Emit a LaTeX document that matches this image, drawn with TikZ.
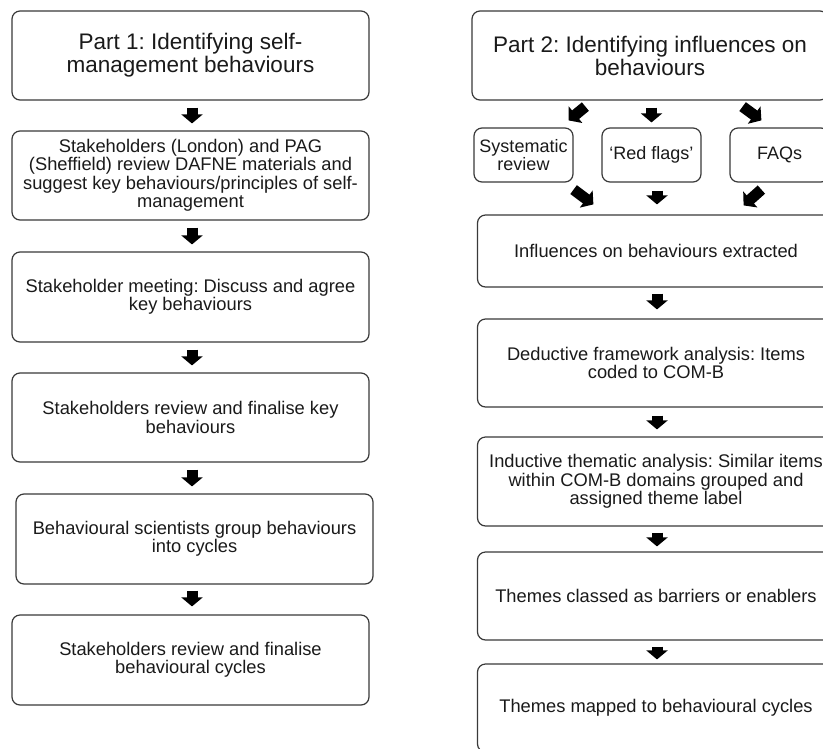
\documentclass[tikz,border=0pt]{standalone}
\usepackage{fontspec}
\setmainfont{Liberation Sans}
\usetikzlibrary{arrows.meta,calc}
\definecolor{boxgray}{HTML}{3A3A3A}
\definecolor{txt}{HTML}{1A1A1A}
\frenchspacing
\begin{document}
\begin{tikzpicture}[x=1pt,y=-1pt,
  box/.style={draw=boxgray, line width=1.2pt, rounded corners=8pt, align=center,
    inner sep=0pt, text=txt, font=\fontsize{18.3}{18.5}\selectfont},
  lbox/.style={box, minimum width=357pt},
  rbox/.style={box, minimum width=357pt},
  title/.style={font=\fontsize{22.5}{23}\selectfont},
  sbox/.style={box, minimum width=99pt, minimum height=54pt, font=\fontsize{18}{18.5}\selectfont},
  blk/.style={line width=11pt, draw=black, -{Triangle[width=21pt,length=9pt]}}]
\useasboundingbox (0,0) rectangle (823,748);
\fill[white] (0,0) rectangle (823,748);
\clip (0,0) rectangle (823,748);

% left column
\node[lbox, title, minimum height=89pt] (L1) at (190.5,55.5) {Part 1: Identifying self-\\management behaviours};
\node[lbox, minimum height=89pt] (L2) at (190.5,175.5) {Stakeholders (London) and PAG\\(Sheffield) review DAFNE materials and\\suggest key behaviours/principles of self-\\management};
\node[lbox, minimum height=90pt] (L3) at (190.5,297) {Stakeholder meeting: Discuss and agree\\key behaviours};
\node[lbox, minimum height=89pt] (L4) at (190.5,417.5) {Stakeholders review and finalise key\\behaviours};
\node[lbox, minimum height=90pt] (L5) at (194.5,539) {Behavioural scientists group behaviours\\into cycles};
\node[lbox, minimum height=90pt] (L6) at (190.5,660) {Stakeholders review and finalise\\behavioural cycles};

% right column
\node[rbox, title, minimum width=356pt, minimum height=89pt] (R1) at (650,55.5) {Part 2: Identifying influences on\\behaviours};
\node[sbox] (SR) at (523.5,155) {Systematic\\review};
\node[sbox] (RF) at (651.5,155) {`Red flags'};
\node[sbox] (FQ) at (779.5,155) {FAQs};
\node[rbox, minimum height=72pt] (R2) at (656,251) {Influences on behaviours extracted};
\node[rbox, minimum height=88pt] (R3) at (656,363) {Deductive framework analysis: Items\\coded to COM-B};
\node[rbox, minimum height=89pt] (R4) at (656,481.5) {Inductive thematic analysis: Similar items\\within COM-B domains grouped and\\assigned theme label};
\node[rbox, minimum height=88pt] (R5) at (656,596) {Themes classed as barriers or enablers};
\node[rbox, minimum height=88pt] (R6) at (656,708) {Themes mapped to behavioural cycles};

% left arrows
\draw[blk, shorten <=7pt, shorten >=7pt] ([xshift=1.5pt]L1.south) -- ([xshift=1.5pt]L2.north);
\draw[blk, shorten <=7pt, shorten >=7pt] ([xshift=1.5pt]L2.south) -- ([xshift=1.5pt]L3.north);
\draw[blk, shorten <=7pt, shorten >=7pt] ([xshift=1.5pt]L3.south) -- ([xshift=1.5pt]L4.north);
\draw[blk, shorten <=7pt, shorten >=7pt] ([xshift=1.5pt]L4.south) -- ([xshift=1.5pt]L4.south |- L5.north);
\draw[blk, shorten <=6pt, shorten >=8pt] ([xshift=1.5pt]L5.south -| L6.south) -- ([xshift=1.5pt]L6.north);

% right arrows
\draw[blk] ($(R1.south west)+(114,6)$) -- ($(SR.north east)+(-5,-7)$);
\draw[blk, shorten <=7pt, shorten >=5pt] (R1.south -| RF.north) -- (RF.north);
\draw[blk] ($(R1.south east)+(-86,6)$) -- ($(FQ.north west)+(32,-7)$);
\draw[blk] ($(SR.south east)+(0,7)$) -- ($(R2.north west)+(116.5,-10)$);
\draw[blk, shorten <=8pt, shorten >=10pt] ([xshift=5.5pt]RF.south) -- ([xshift=5.5pt]RF.south |- R2.north);
\draw[blk] ($(FQ.south west)+(32,7)$) -- ($(R2.north east)+(-91.5,-9)$);
\draw[blk, shorten <=6pt, shorten >=9pt] ([xshift=1pt]R2.south) -- ([xshift=1pt]R3.north);
\draw[blk, shorten <=8pt, shorten >=7pt] ([xshift=1pt]R3.south) -- ([xshift=1pt]R4.north);
\draw[blk, shorten <=6pt, shorten >=5pt] ([xshift=1pt]R4.south) -- ([xshift=1pt]R5.north);
\draw[blk, shorten <=6pt, shorten >=4pt] ([xshift=1pt]R5.south) -- ([xshift=1pt]R6.north);
\end{tikzpicture}
\end{document}
